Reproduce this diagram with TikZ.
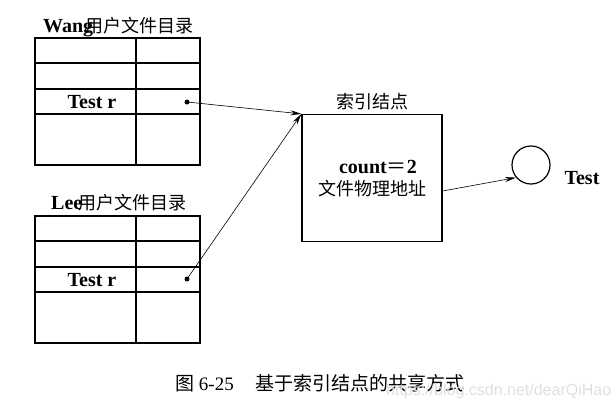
\documentclass[tikz,border=0pt]{standalone}
\usepackage{fontspec}
\setmainfont{Liberation Serif}
\newfontfamily\cjk{Noto Sans CJK SC}
\newfontfamily\marksans{Liberation Sans}
\usepackage{tikz}
\usetikzlibrary{arrows.meta, positioning}
\tikzstyle{arrow} = [->, >={Stealth[length=11pt,width=5pt]}, line width=0.6pt]

\begin{document}
\begin{tikzpicture}[
  x=1pt, y=-1pt,
  every node/.style={inner sep=0pt},
  latin/.style={font=\fontsize{20}{22}\selectfont\bfseries},
  hanzi/.style={font=\fontsize{18}{20}\selectfont\cjk},
  ptr/.style={circle, fill=black, minimum size=5pt},
  grid/.style={line width=1.2pt}
]
\useasboundingbox (0,0) rectangle (616,413);

% the two directory tables
\foreach \t in {38,216} {
  \draw[grid] (35,\t) rectangle (200,\t+127);
  \draw[grid] (136,\t) -- (136,\t+127);
  \foreach \r in {25,51,76} \draw[grid] (35,\t+\r) -- (200,\t+\r);
}

% Wang directory
\node[latin, anchor=base west] (wangname) at (43,32) {Wang\kern-8pt{\cjk\fontsize{18}{20}\selectfont\mdseries 用户文件目录}};
\node[latin] (wangfile) at (92,102) {Test r};
\node[ptr] (wangptr) at (187,102) {};

% Lee directory
\node[latin, anchor=base west] (leename) at (51,209) {Lee\kern-4pt{\cjk\fontsize{18}{20}\selectfont\mdseries 用户文件目录}};
\node[latin] (leefile) at (92,280) {Test r};
\node[ptr] (leeptr) at (187,279) {};

% index node
\node[draw, grid, minimum width=140pt, minimum height=127pt] (inode) at (372,178) {};
\node[hanzi, above=4pt of inode] (inodetitle) {索引结点};
\node[latin] (count) at (378,167) {count{\cjk\mdseries ＝}2};
\node[hanzi] (addr) at (372,189) {文件物理地址};

% the shared file
\node[circle, draw, grid, minimum size=38pt] (file) at (531,165) {};
\node[latin] (filename) at (582,178) {Test};

% pointers
\draw[arrow] (wangptr.center) -- (inode.north west);
\draw[arrow] (leeptr.center) -- (inode.north west);
\draw[arrow] ([yshift=-13pt]inode.east) -- (file.220);

% caption
\node[font=\fontsize{19}{21}\selectfont] (caption) at (320,383) {{\cjk 图} 6-25\hspace{22pt}{\cjk 基于索引结点的共享方式}};
\node[font=\fontsize{16}{18}\selectfont\marksans, text=gray!25, anchor=west] (mark) at (386,391) {https://blog.csdn.net/dearQiHao};
\end{tikzpicture}
\end{document}
